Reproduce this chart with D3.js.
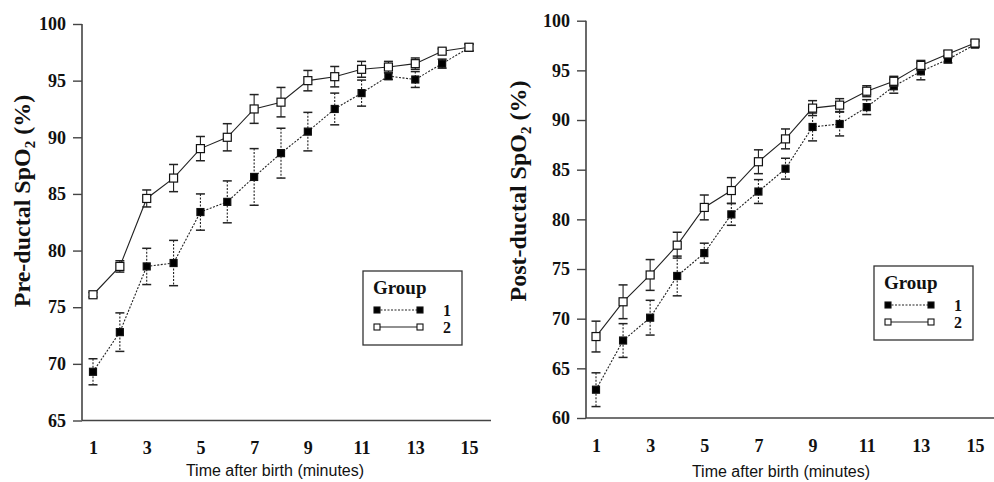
<!DOCTYPE html>
<html>
<head>
<meta charset="utf-8">
<script src="https://cdn.jsdelivr.net/npm/d3@7"></script>
<style>
  body { margin: 0; background: #fff; }
  svg { display: block; }
</style>
</head>
<body>
<div id="chart"></div>
<script>
// minutes after birth
const minutes = [1, 2, 3, 4, 5, 6, 7, 8, 9, 10, 11, 12, 13, 14, 15];
const xTicks = [1, 3, 5, 7, 9, 11, 13, 15];

// pre-ductal SpO2 (%), mean and error
const preGroup1 = [69.3, 72.8, 78.6, 78.9, 83.4, 84.3, 86.5, 88.6, 90.5, 92.5, 93.9, 95.4, 95.1, 96.5, 97.9];
const preGroup1Err = [1.15, 1.7, 1.6, 2.0, 1.6, 1.85, 2.5, 2.2, 1.7, 1.4, 1.15, 0.3, 0.7, 0.4, 0.3];
const preGroup2 = [76.1, 78.6, 84.6, 86.4, 89.0, 90.0, 92.5, 93.1, 95.0, 95.35, 96.0, 96.2, 96.5, 97.6, 97.95];
const preGroup2Err = [0.2, 0.5, 0.75, 1.2, 1.07, 1.2, 1.27, 1.3, 0.9, 0.9, 0.7, 0.5, 0.5, 0.2, 0.3];

// post-ductal SpO2 (%), mean and error
const postGroup1 = [62.85, 67.8, 70.1, 74.3, 76.6, 80.5, 82.8, 85.1, 89.3, 89.6, 91.3, 93.4, 94.9, 96.1, 97.6];
const postGroup1Err = [1.7, 1.7, 1.75, 2.0, 1.0, 1.1, 1.2, 1.05, 1.4, 1.2, 0.75, 0.7, 0.85, 0.35, 0.3];
const postGroup2 = [68.2, 71.7, 74.4, 77.4, 81.2, 82.9, 85.8, 88.1, 91.2, 91.5, 92.9, 93.9, 95.5, 96.65, 97.75];
const postGroup2Err = [1.55, 1.7, 1.55, 1.3, 1.25, 1.3, 1.2, 1.0, 0.75, 0.65, 0.55, 0.5, 0.5, 0.3, 0.3];

const groupNames = ["1", "2"];

const W = 994, H = 482;
const serif = "'Liberation Serif', 'Times New Roman', serif";
const sans = "'Liberation Sans', Arial, sans-serif";

const svg = d3.select("#chart")
    .append("svg")
    .attr("width", W)
    .attr("height", H);

function drawPanel(cfg) {
    const g = svg.append("g");

    const xScale = d3.scaleLinear()
        .domain([1, 15])
        .range(cfg.xRange);

    const yScale = d3.scaleLinear()
        .domain(cfg.yDomain)
        .range(cfg.yRange);

    const axisColor = "#444";

    // y axis
    const yAxis = g.append("g")
        .attr("transform", `translate(${cfg.axisX},0)`)
        .call(d3.axisLeft(yScale).tickValues(d3.range(cfg.yDomain[0], cfg.yDomain[1] + 1, 5)).tickSize(9).tickPadding(7));
    yAxis.select(".domain").remove();
    yAxis.selectAll(".tick line").attr("stroke", axisColor).attr("stroke-width", 1.4);
    yAxis.selectAll(".tick text")
        .attr("font-family", serif)
        .attr("font-weight", "bold")
        .attr("font-size", 18)
        .attr("fill", "#111");

    // x axis
    const xAxis = g.append("g")
        .attr("transform", `translate(0,${yScale(cfg.yDomain[0])})`)
        .call(d3.axisBottom(xScale).tickValues(xTicks).tickSize(0).tickPadding(21));
    xAxis.select(".domain").remove();
    xAxis.selectAll(".tick text")
        .attr("font-family", serif)
        .attr("font-weight", "bold")
        .attr("font-size", 18)
        .attr("fill", "#111");

    // axis lines
    g.append("line")
        .attr("x1", cfg.axisX).attr("x2", cfg.axisX)
        .attr("y1", yScale(cfg.yDomain[1])).attr("y2", yScale(cfg.yDomain[0]))
        .attr("stroke", axisColor).attr("stroke-width", 1.6);
    g.append("line")
        .attr("x1", cfg.axisX).attr("x2", cfg.axisEnd)
        .attr("y1", yScale(cfg.yDomain[0])).attr("y2", yScale(cfg.yDomain[0]))
        .attr("stroke", axisColor).attr("stroke-width", 1.6);

    // titles
    const yTitle = g.append("text")
        .attr("transform", `translate(${cfg.yTitlePos[0]},${cfg.yTitlePos[1]}) rotate(-90)`)
        .attr("text-anchor", "middle")
        .attr("font-family", serif)
        .attr("font-weight", "bold")
        .attr("font-size", 24)
        .attr("fill", "#111");
    yTitle.append("tspan").text(cfg.yTitle + " SpO");
    yTitle.append("tspan").attr("font-size", 15).attr("dy", 5).text("2");
    yTitle.append("tspan").attr("dy", -5).text(" (%)");

    g.append("text")
        .attr("x", cfg.xTitlePos[0])
        .attr("y", cfg.xTitlePos[1])
        .attr("text-anchor", "middle")
        .attr("font-family", sans)
        .attr("font-size", 16)
        .attr("fill", "#111")
        .text("Time after birth (minutes)");

    const series = [
        { name: groupNames[0], values: cfg.g1, err: cfg.g1Err, dash: "2,1.5", fill: "#000", size: 7 },
        { name: groupNames[1], values: cfg.g2, err: cfg.g2Err, dash: null, fill: "#fff", size: 8 }
    ];

    const line = d3.line()
        .x(d => xScale(d.t))
        .y(d => yScale(d.v));

    series.forEach(s => {
        const pts = minutes.map((t, i) => ({ t: t, v: s.values[i], e: s.err[i] }));

        // error bars
        const eb = g.append("g")
            .attr("stroke", "#222")
            .attr("stroke-width", 1.1);
        eb.selectAll(".stem")
            .data(pts)
            .join("line")
            .attr("x1", d => xScale(d.t)).attr("x2", d => xScale(d.t))
            .attr("y1", d => yScale(d.v + d.e)).attr("y2", d => yScale(d.v - d.e))
            .attr("stroke-dasharray", s.dash);
        [1, -1].forEach(sign => {
            eb.selectAll(null)
                .data(pts)
                .join("line")
                .attr("x1", d => xScale(d.t) - 4.5).attr("x2", d => xScale(d.t) + 4.5)
                .attr("y1", d => yScale(d.v + sign * d.e)).attr("y2", d => yScale(d.v + sign * d.e))
                .attr("stroke-width", 1.5);
        });

        // connecting line
        g.append("path")
            .datum(pts)
            .attr("fill", "none")
            .attr("stroke", "#222")
            .attr("stroke-width", 1.1)
            .attr("stroke-dasharray", s.dash)
            .attr("d", line);

        // markers
        g.selectAll(null)
            .data(pts)
            .join("rect")
            .attr("x", d => xScale(d.t) - s.size / 2)
            .attr("y", d => yScale(d.v) - s.size / 2)
            .attr("width", s.size)
            .attr("height", s.size)
            .attr("fill", s.fill)
            .attr("stroke", "#111")
            .attr("stroke-width", 1.2);
    });

    // legend
    const lg = g.append("g")
        .attr("transform", `translate(${cfg.legend[0]},${cfg.legend[1]})`);
    lg.append("rect")
        .attr("width", 99).attr("height", 74)
        .attr("fill", "#fff")
        .attr("stroke", "#333").attr("stroke-width", 1.3);
    lg.append("text")
        .attr("x", 10).attr("y", 23)
        .attr("font-family", serif)
        .attr("font-weight", "bold")
        .attr("font-size", 19)
        .attr("fill", "#111")
        .text("Group");
    series.forEach((s, i) => {
        const ly = 39 + i * 17;
        lg.append("line")
            .attr("x1", 14).attr("x2", 57)
            .attr("y1", ly).attr("y2", ly)
            .attr("stroke", "#222").attr("stroke-width", 1.1)
            .attr("stroke-dasharray", s.dash);
        [14, 57].forEach(mx => {
            lg.append("rect")
                .attr("x", mx - 3).attr("y", ly - 3)
                .attr("width", 6).attr("height", 6)
                .attr("fill", s.fill)
                .attr("stroke", "#111").attr("stroke-width", 1.1);
        });
        lg.append("text")
            .attr("x", 84).attr("y", ly + 6)
            .attr("text-anchor", "middle")
            .attr("font-family", serif)
            .attr("font-weight", "bold")
            .attr("font-size", 16)
            .attr("fill", "#111")
            .text(s.name);
    });
}

drawPanel({
    g1: preGroup1, g1Err: preGroup1Err, g2: preGroup2, g2Err: preGroup2Err,
    yDomain: [65, 100], yRange: [420.5, 24],
    xRange: [93, 469],
    axisX: 82, axisEnd: 491,
    yTitle: "Pre-ductal", yTitlePos: [30, 201],
    xTitlePos: [275, 476],
    legend: [363, 271]
});

drawPanel({
    g1: postGroup1, g1Err: postGroup1Err, g2: postGroup2, g2Err: postGroup2Err,
    yDomain: [60, 100], yRange: [418, 20.7],
    xRange: [596, 975],
    axisX: 586, axisEnd: 994,
    yTitle: "Post-ductal", yTitlePos: [526, 191],
    xTitlePos: [781, 477],
    legend: [874, 266]
});
</script>
</body>
</html>
